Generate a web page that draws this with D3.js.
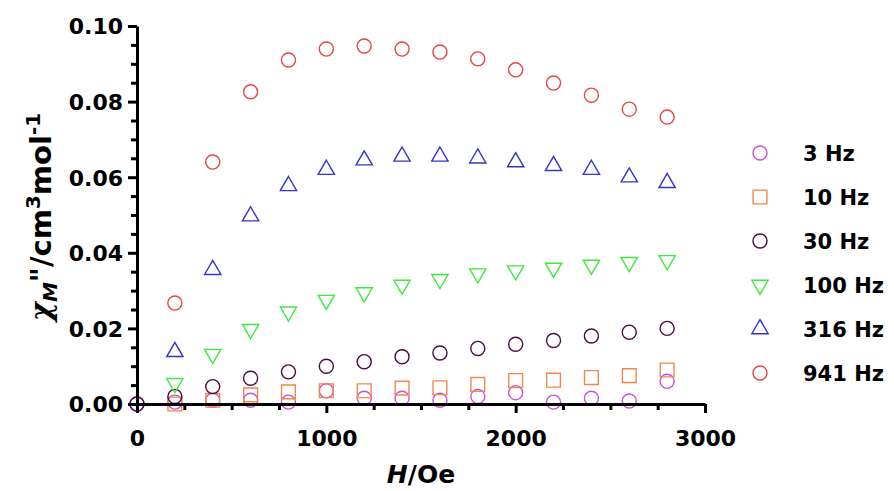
<!DOCTYPE html>
<meta charset="utf-8">
<style>
body { margin: 0; background: #fff; }
text { font-family: "DejaVu Sans", sans-serif; font-weight: bold; }
.axis .domain { stroke: #000; stroke-width: 3px; }
.axis line { stroke: #000; stroke-width: 3px; }
</style>
<svg width="894" height="491"></svg>
<script src="https://d3js.org/d3.v7.min.js"></script>
<script>

// field values (Oe)
var fields = [0, 200, 400, 600, 800, 1000, 1200, 1400, 1600, 1800, 2000, 2200, 2400, 2600, 2800];

// chi'' for each frequency, null where no point is drawn
var hz3   = [0, 0.0005, 0.0010, 0.0010, 0.0005, 0.0035, 0.0015, 0.0015, 0.0010, 0.0020, 0.0030, 0.0005, 0.0015, 0.0008, 0.0060];
var hz10  = [null, 0.0000, 0.0010, 0.0024, 0.0032, 0.0035, 0.0035, 0.0042, 0.0043, 0.0052, 0.0062, 0.0063, 0.0070, 0.0075, 0.0090];
var hz30  = [0, 0.0020, 0.0046, 0.0068, 0.0085, 0.0100, 0.0112, 0.0125, 0.0135, 0.0147, 0.0158, 0.0168, 0.0180, 0.0190, 0.0200];
var hz100 = [null, 0.0055, 0.0132, 0.0198, 0.0244, 0.0275, 0.0295, 0.0315, 0.0330, 0.0345, 0.0353, 0.0360, 0.0368, 0.0375, 0.0380];
var hz316 = [null, 0.0138, 0.0355, 0.0497, 0.0577, 0.0620, 0.0645, 0.0655, 0.0655, 0.0650, 0.0640, 0.0630, 0.0620, 0.0600, 0.0585];
var hz941 = [null, 0.0267, 0.0640, 0.0826, 0.0910, 0.0939, 0.0947, 0.0939, 0.0931, 0.0913, 0.0884, 0.0849, 0.0817, 0.0780, 0.0759];

var xTicks = [0, 1000, 2000, 3000];
var yTicks = [0, 0.02, 0.04, 0.06, 0.08, 0.10];

var series = [
  {name: "3 Hz",   values: hz3,   color: "#cc4fd9", shape: "circle"},
  {name: "10 Hz",  values: hz10,  color: "#f0884a", shape: "square"},
  {name: "30 Hz",  values: hz30,  color: "#4b0c40", shape: "circle"},
  {name: "100 Hz", values: hz100, color: "#3fe83f", shape: "down"},
  {name: "316 Hz", values: hz316, color: "#3535c8", shape: "up"},
  {name: "941 Hz", values: hz941, color: "#e84444", shape: "circle"}
];

var svg = d3.select("svg"),
    margin = {top: 26, right: 189, bottom: 87, left: 137},
    width = +svg.attr("width") - margin.left - margin.right,
    height = +svg.attr("height") - margin.top - margin.bottom,
    g = svg.append("g").attr("transform", "translate(" + margin.left + "," + margin.top + ")");

var x = d3.scaleLinear().domain([0, 3000]).range([0, width]);
var y = d3.scaleLinear().domain([0, 0.10]).range([height, 0]);

function symbolPath(shape) {
  if (shape == "circle") return d3.symbol(d3.symbolCircle, 155)();
  if (shape == "square") return d3.symbol(d3.symbolSquare, 190)();
  return d3.symbol(d3.symbolTriangle, 115)();
}
function symbolRot(shape) {
  return shape == "down" ? " rotate(180)" : "";
}

// points
series.forEach(function(s) {
  var pts = fields.map(function(f, i) { return {h: f, v: s.values[i]}; })
    .filter(function(d) { return d.v !== null; });
  g.append("g")
    .selectAll("path")
    .data(pts)
    .enter().append("path")
      .attr("d", symbolPath(s.shape))
      .attr("transform", function(d) { return "translate(" + x(d.h) + "," + y(d.v) + ")" + symbolRot(s.shape); })
      .attr("fill", "none")
      .attr("stroke", s.color)
      .attr("stroke-width", 1.4);
});

// axes
var xAxis = g.append("g")
    .attr("class", "axis")
    .attr("transform", "translate(0," + height + ")")
    .call(d3.axisBottom(x).tickValues(xTicks).tickSize(9).tickSizeOuter(0).tickFormat(d3.format("d")));
g.append("g")
    .attr("class", "axis")
    .attr("transform", "translate(0," + height + ")")
    .call(d3.axisBottom(x).tickValues(d3.range(250, 3000, 250).filter(function(d) { return d % 1000; })).tickSize(6).tickFormat(""))
    .select(".domain").remove();

var yAxis = g.append("g")
    .attr("class", "axis")
    .call(d3.axisLeft(y).tickValues(yTicks).tickSize(9).tickSizeOuter(0).tickFormat(d3.format(".2f")));
g.append("g")
    .attr("class", "axis")
    .call(d3.axisLeft(y).tickValues(d3.range(0.005, 0.1, 0.005).filter(function(d, i) { return i % 4 != 3; })).tickSize(6).tickFormat(""))
    .select(".domain").remove();

svg.selectAll(".axis text").style("font-size", "22px").attr("fill", "#000");
xAxis.selectAll("text").attr("y", 0).attr("dy", 42);
yAxis.selectAll("text").attr("dy", "0.36em").attr("x", -14);

// axis titles
var xt = svg.append("text")
    .attr("x", margin.left + width / 2)
    .attr("y", 483)
    .attr("text-anchor", "middle")
    .style("font-size", "25px");
xt.append("tspan").style("font-style", "italic").text("H");
xt.append("tspan").text("/Oe");

var yt = svg.append("text")
    .attr("transform", "translate(51," + 217 + ") rotate(-90)")
    .attr("text-anchor", "middle")
    .style("font-size", "29px");
yt.append("tspan").style("font-style", "italic").style("font-family", "DejaVu Serif").text("χ");
yt.append("tspan").style("font-style", "italic").style("font-size", "20px").attr("dy", 6).text("M");
yt.append("tspan").attr("dy", -6).text("\"/cm");
yt.append("tspan").style("font-size", "20px").attr("dy", -11).text("3");
yt.append("tspan").attr("dy", 11).text("mol");
yt.append("tspan").style("font-size", "20px").attr("dy", -11).text("-1");

// legend
var legend = svg.append("g")
  .selectAll("g")
  .data(series)
  .enter().append("g")
    .attr("transform", function(d, i) { return "translate(760," + (153 + i * 44) + ")"; });

legend.append("path")
    .attr("d", function(d) { return symbolPath(d.shape); })
    .attr("transform", function(d) { return symbolRot(d.shape); })
    .attr("fill", "none")
    .attr("stroke", function(d) { return d.color; })
    .attr("stroke-width", 1.4);

legend.append("text")
    .attr("x", 43)
    .attr("dy", "0.36em")
    .style("font-size", "21px")
    .text(function(d) { return d.name; });

</script>
